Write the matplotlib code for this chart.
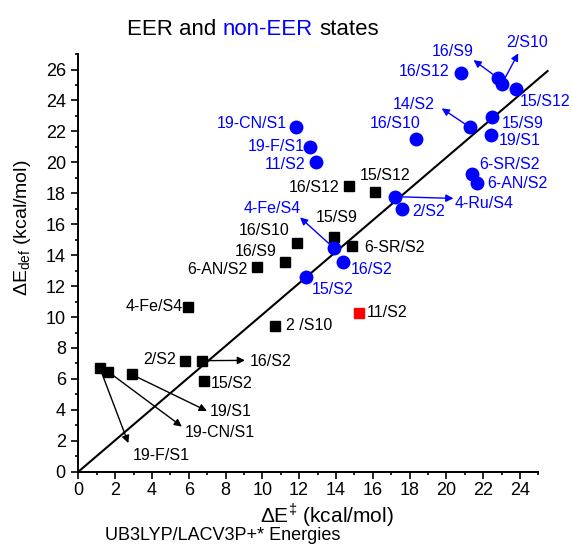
import matplotlib
matplotlib.use('Agg')
from matplotlib import pyplot as plt
from matplotlib.ticker import MultipleLocator

plt.rcParams['font.family'] = ['Liberation Sans', 'DejaVu Sans']
plt.rcParams['mathtext.fontset'] = 'custom'
plt.rcParams['mathtext.rm'] = 'Liberation Sans'

BLUE = '#0000ff'

# EER states (black squares)
eer_names = ['2/S2', '16/S2', '15/S2', '19/S1', '19-CN/S1', '19-F/S1', '4-Fe/S4', '2 /S10',
             '6-AN/S2', '16/S9', '16/S10', '15/S9', '6-SR/S2', '16/S12', '15/S12']
eer_x = [5.82, 6.70, 6.83, 2.90, 1.63, 1.18, 5.95, 10.71, 9.72, 11.22, 11.87, 13.90, 14.89, 14.73, 16.12]
eer_y = [7.18, 7.18, 5.88, 6.29, 6.46, 6.68, 10.67, 9.42, 13.22, 13.58, 14.76, 15.19, 14.59, 18.47, 18.08]

# non-EER states (blue circles)
neer_names = ['16/S12', '16/S9', '2/S10', '15/S12', '15/S9', '14/S2', '19/S1', '16/S10', '19-CN/S1',
              '19-F/S1', '11/S2', '6-SR/S2', '6-AN/S2', '4-Ru/S4', '2/S2', '4-Fe/S4', '16/S2', '15/S2']
neer_x = [20.80, 22.83, 23.01, 23.79, 22.50, 21.29, 22.41, 18.34, 11.83,
          12.59, 12.90, 21.38, 21.65, 17.21, 17.57, 13.91, 14.40, 12.40]
neer_y = [25.75, 25.43, 25.04, 24.76, 22.91, 22.26, 21.77, 21.50, 22.26,
          21.00, 20.04, 19.22, 18.64, 17.78, 16.96, 14.44, 13.58, 12.58]

# outlier (red square)
out_names = ['11/S2']
out_x = [15.27]
out_y = [10.28]

# correlation line
line_x = [0, 25.5]
line_y = [0, 25.9]

# label placement: name -> (text x, text y, ha, arrow end or None)
eer_labels = {
    '2/S2': (5.3, 7.26, 'right', None),
    '16/S2': (9.33, 7.15, 'left', (9.06, 7.2)),
    '15/S2': (7.21, 5.71, 'left', None),
    '19/S1': (7.15, 3.88, 'left', (6.99, 3.93)),
    '19-CN/S1': (5.8, 2.53, 'left', (5.63, 2.92)),
    '19-F/S1': (2.97, 1.05, 'left', (2.72, 1.85)),
    '4-Fe/S4': (5.67, 10.67, 'right', None),
    '2 /S10': (11.29, 9.44, 'left', None),
    '6-AN/S2': (9.2, 13.1, 'right', None),
    '16/S9': (10.78, 14.22, 'right', None),
    '16/S10': (11.5, 15.62, 'right', None),
    '15/S9': (14.04, 16.44, 'center', None),
    '6-SR/S2': (15.54, 14.5, 'left', None),
    '16/S12': (14.19, 18.38, 'right', None),
    '15/S12': (16.67, 19.18, 'center', None),
}
neer_labels = {
    '16/S12': (20.16, 25.86, 'right', None),
    '16/S9': (20.33, 27.15, 'center', (21.48, 26.61)),
    '2/S10': (24.37, 27.75, 'center', (23.91, 27.05)),
    '15/S12': (24.0, 23.92, 'left', None),
    '15/S9': (23.01, 22.52, 'left', None),
    '14/S2': (19.39, 23.76, 'right', (19.75, 23.49)),
    '19/S1': (22.83, 21.38, 'left', None),
    '16/S10': (17.2, 22.5, 'center', None),
    '19-CN/S1': (11.36, 22.52, 'right', None),
    '19-F/S1': (12.32, 21.05, 'right', None),
    '11/S2': (12.32, 19.83, 'right', None),
    '6-SR/S2': (21.79, 19.87, 'left', None),
    '6-AN/S2': (22.23, 18.64, 'left', None),
    '4-Ru/S4': (20.47, 17.35, 'left', (20.39, 17.67)),
    '2/S2': (18.15, 16.81, 'left', None),
    '4-Fe/S4': (12.1, 17.0, 'right', (12.05, 16.44)),
    '16/S2': (14.8, 13.08, 'left', None),
    '15/S2': (12.68, 11.79, 'left', None),
}
out_labels = {'11/S2': (15.67, 10.3, 'left', None)}


def put_labels(ax, names, xs, ys, labels, color):
    for name, x, y in zip(names, xs, ys):
        tx, ty, ha, end = labels[name]
        if end is not None:
            ax.annotate('', xy=end, xytext=(x, y), zorder=2, annotation_clip=False,
                        arrowprops=dict(arrowstyle='-|>', color=color, lw=1.0,
                                        mutation_scale=11, shrinkA=0, shrinkB=0))
        ax.text(tx, ty, name, color=color, fontsize=11.5, ha=ha, va='center', clip_on=False)


fig = plt.figure(figsize=(5.72, 5.46), dpi=100)
ax = fig.add_axes([0.1369, 0.136, 0.8042, 0.765])

ax.plot(line_x, line_y, color='black', lw=1.5, zorder=1, clip_on=False)
ax.plot(eer_x, eer_y, 's', color='black', ms=7.5, zorder=3, clip_on=False)
ax.plot(neer_x, neer_y, 'o', color=BLUE, ms=9, zorder=3, clip_on=False)
ax.plot(out_x, out_y, 's', color='red', ms=7.5, zorder=3, clip_on=False)

put_labels(ax, eer_names, eer_x, eer_y, eer_labels, 'black')
put_labels(ax, neer_names, neer_x, neer_y, neer_labels, BLUE)
put_labels(ax, out_names, out_x, out_y, out_labels, 'black')

ax.set_xlim(0, 25)
ax.set_ylim(0, 27)
ax.set_xticks(range(0, 25, 2))
ax.xaxis.set_minor_locator(MultipleLocator(1))
ax.yaxis.set_major_locator(MultipleLocator(2))
ax.yaxis.set_minor_locator(MultipleLocator(1))
ax.spines['top'].set_visible(False)
ax.spines['right'].set_visible(False)
for s in ['left', 'bottom']:
    ax.spines[s].set_linewidth(1.4)
ax.tick_params(which='major', direction='out', length=5, width=1.2, labelsize=13)
ax.tick_params(which='minor', direction='out', length=2.5, width=1.2)
ax.tick_params(axis='x', which='major', pad=2.5)
ax.tick_params(axis='y', which='major', pad=4)

ax.set_xlabel('ΔE$^{\\mathregular{\u2021}}$ (kcal/mol)', fontsize=15, ha='center', va='center')
ax.xaxis.set_label_coords(0.54, -0.104)
ax.set_ylabel('ΔE$_{\\mathregular{def}}$ (kcal/mol)', fontsize=14, ha='center', va='center')
ax.yaxis.set_label_coords(-0.1224, 0.585)

# title in two colours
t1 = fig.text(127 / 572, 1 - 40 / 546, 'EER and', fontsize=16, va='bottom')
t2 = ax.annotate('non-EER', xy=(1, 0), xycoords=t1, xytext=(4.5, 0), textcoords='offset points',
                 fontsize=16, color=BLUE, va='bottom', ha='left')
ax.annotate('states', xy=(1, 0), xycoords=t2, xytext=(4.5, 0), textcoords='offset points',
            fontsize=16, va='bottom', ha='left')

fig.text(105 / 572, 1 - 535 / 546, 'UB3LYP/LACV3P+* Energies', fontsize=13, va='center')

plt.savefig('out.png', dpi=100)
plt.close('all')
